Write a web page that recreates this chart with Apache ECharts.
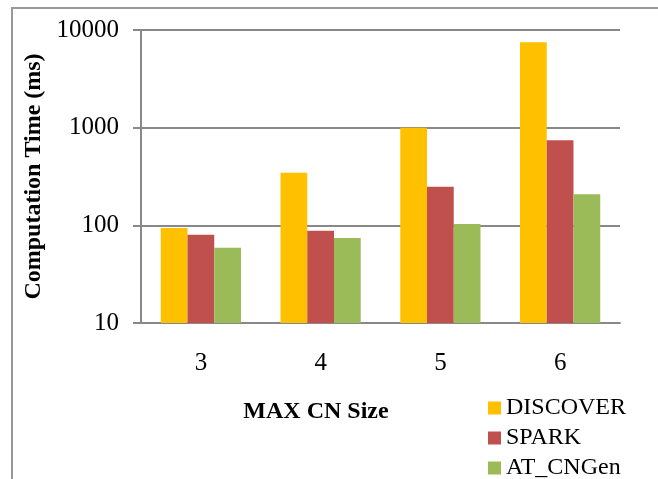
<!DOCTYPE html>
<html>
<head>
<meta charset="utf-8">
<script src="https://cdn.jsdelivr.net/npm/echarts@6/dist/echarts.min.js"></script>
<style>
html,body{margin:0;padding:0;background:#fff;}
#c{width:658px;height:479px;}
</style>
</head>
<body>
<div id="c"></div>
<script>
const categories = ['3', '4', '5', '6'];
const discover = [94, 345, 1000, 7500];
const spark = [80, 88, 248, 745];
const atCNGen = [59, 74, 103, 208];
const seriesNames = ['DISCOVER', 'SPARK', 'AT_CNGen'];
const colors = ['#FFC000', '#C0504D', '#9BBB59'];

const FONT = "'Liberation Serif', 'Times New Roman', serif";
const chart = echarts.init(document.getElementById('c'));
chart.setOption({
  animation: false,
  backgroundColor: '#fff',
  grid: { left: 141, right: 38, top: 30, bottom: 156, containLabel: false },
  legend: {
    orient: 'vertical',
    left: 488,
    top: 395,
    height: 120,
    padding: 0,
    icon: 'rect',
    itemWidth: 13,
    itemHeight: 13,
    itemGap: 4,
    textStyle: { fontFamily: FONT, fontSize: 24, color: '#000', lineHeight: 26 },
    data: seriesNames
  },
  xAxis: {
    type: 'category',
    data: categories,
    axisLine: { show: true, lineStyle: { color: '#888', width: 2 } },
    axisTick: { show: false },
    axisLabel: { fontFamily: FONT, fontSize: 25, color: '#000', margin: 28 },
    splitLine: { show: false }
  },
  yAxis: {
    type: 'log',
    logBase: 10,
    min: 10,
    max: 10000,
    name: 'Computation Time (ms)',
    nameLocation: 'middle',
    nameRotate: 90,
    nameGap: 88,
    nameTextStyle: { fontFamily: FONT, fontSize: 24, fontWeight: 'bold', color: '#000' },
    axisLine: { show: true, lineStyle: { color: '#888', width: 2 } },
    axisTick: { show: true, length: 8, lineStyle: { color: '#888', width: 2 } },
    axisLabel: { fontFamily: FONT, fontSize: 25, color: '#000', margin: 22, formatter: function (v) { return String(Math.round(v)); } },
    splitLine: { show: true, lineStyle: { color: '#888', width: 2 } }
  },
  graphic: [
    {
      type: 'rect',
      shape: { x: 12, y: 8, width: 800, height: 600 },
      style: { fill: 'none', stroke: '#999', lineWidth: 2 },
      silent: true
    },
    {
      type: 'text',
      x: 316,
      y: 412,
      style: { text: 'MAX CN Size', fontFamily: FONT, fontSize: 24, fontWeight: 'bold', fill: '#000', align: 'center', verticalAlign: 'middle' }
    }
  ],
  series: [
    { name: seriesNames[0], type: 'bar', data: discover, itemStyle: { color: colors[0] }, barGap: '0%', barCategoryGap: '33%' },
    { name: seriesNames[1], type: 'bar', data: spark, itemStyle: { color: colors[1] }, barGap: '0%', barCategoryGap: '33%' },
    { name: seriesNames[2], type: 'bar', data: atCNGen, itemStyle: { color: colors[2] }, barGap: '0%', barCategoryGap: '33%' }
  ]
});
</script>
</body>
</html>
